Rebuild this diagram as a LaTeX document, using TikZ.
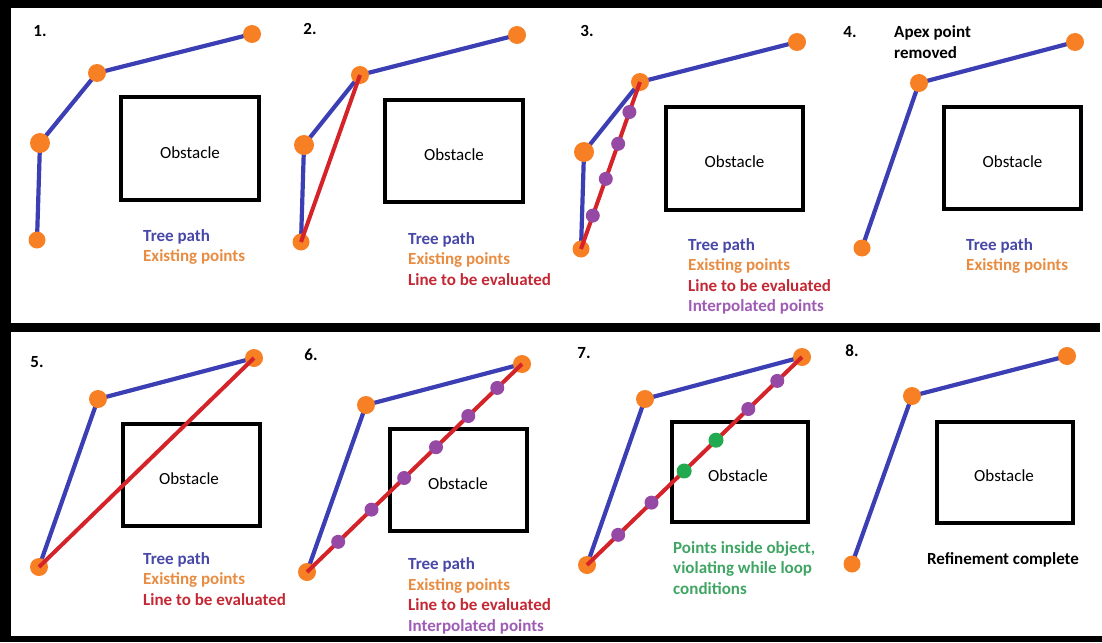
\documentclass[tikz,border=0pt]{standalone}
\usepackage{fontspec}
\setmainfont{Carlito}
\usetikzlibrary{calc}
\definecolor{treeblue}{RGB}{60,62,180}
\definecolor{ptorange}{RGB}{247,128,37}
\definecolor{evalred}{RGB}{212,36,42}
\definecolor{interp}{RGB}{150,72,165}
\definecolor{ptgreen}{RGB}{34,170,80}
\definecolor{lblblue}{RGB}{72,72,168}
\definecolor{lblorange}{RGB}{232,140,66}
\definecolor{lblred}{RGB}{196,40,52}
\definecolor{lblpurple}{RGB}{158,92,180}
\definecolor{lblgreen}{RGB}{64,165,100}
\tikzset{
  op/.style={circle,fill=ptorange,inner sep=0pt,minimum size=18pt},
  opbig/.style={op,minimum size=20pt},
  pp/.style={circle,fill=interp,inner sep=0pt,minimum size=14pt},
  gp/.style={circle,fill=ptgreen,inner sep=0pt,minimum size=15pt},
  tree/.style={draw=treeblue,line width=4.2pt},
  evalline/.style={draw=evalred,line width=4pt},
  obst/.style={draw=black,line width=4.5pt,inner sep=0pt},
  obtxt/.style={font=\fontsize{17}{20}\selectfont,inner sep=0pt},
  num/.style={font=\fontsize{17}{20}\selectfont\bfseries,inner sep=0pt},
  lbl/.style={font=\fontsize{17}{20.5}\selectfont\bfseries,anchor=west,align=left,inner sep=0pt},
  bar/.style={fill=black}
}
\newcommand{\lTree}{\textcolor{lblblue}{Tree path}}
\newcommand{\lExist}{\textcolor{lblorange}{Existing points}}
\newcommand{\lEval}{\textcolor{lblred}{Line to be evaluated}}
\newcommand{\lInterp}{\textcolor{lblpurple}{Interpolated points}}
\begin{document}
\begin{tikzpicture}[x=1pt,y=-1pt]
\useasboundingbox (0,0) rectangle (1102,642);
% frame
\fill[bar] (0,0) rectangle (1102,8);
\fill[bar] (0,0) rectangle (11,642);
\fill[bar] (0,323) rectangle (1100,332);
\fill[bar] (0,636) rectangle (1102,642);

% ---------- Panel 1 ----------
\node[num] (n1) at (40,31) {1.};
\node[obst,minimum width=138pt,minimum height=103pt] (o1) at (190,148.5) {};
\node[obtxt] (t1) at (190,153) {Obstacle};
\coordinate (a1) at (252,34);
\coordinate (b1) at (97,73);
\coordinate (c1) at (40,143);
\coordinate (d1) at (37,240);
\draw[tree] (a1) -- (b1) -- (c1) -- (d1);
\node[op] (pa1) at (a1) {};
\node[op] (pb1) at (b1) {};
\node[opbig] (pc1) at (c1) {};
\node[op,minimum size=17pt] (pd1) at (d1) {};
\node[lbl] (l1) at (143,247) {\lTree\\\lExist};

% ---------- Panel 2 ----------
\node[num] (n2) at (310,29) {2.};
\node[obst,minimum width=138pt,minimum height=102pt] (o2) at (454,151) {};
\node[obtxt] (t2) at (454,155) {Obstacle};
\coordinate (a2) at (517,35);
\coordinate (b2) at (360,75);
\coordinate (c2) at (304,145);
\coordinate (d2) at (301,242);
\draw[tree] (a2) -- (b2) -- (c2) -- (d2);
\node[op] (pa2) at (a2) {};
\node[op] (pb2) at (b2) {};
\node[opbig] (pc2) at (c2) {};
\node[op,minimum size=17pt] (pd2) at (d2) {};
\draw[evalline] (pd2.center) -- (pb2.center);
\node[lbl] (l2) at (408,259) {\lTree\\\lExist\\\lEval};

% ---------- Panel 3 ----------
\node[num] (n3) at (587,31) {3.};
\node[obst,minimum width=137pt,minimum height=103pt] (o3) at (734.5,158.5) {};
\node[obtxt] (t3) at (734.5,162) {Obstacle};
\coordinate (a3) at (797,42);
\coordinate (b3) at (640,82);
\coordinate (c3) at (584,152);
\coordinate (d3) at (581,249);
\draw[tree] (a3) -- (b3) -- (c3) -- (d3);
\node[op] (pa3) at (a3) {};
\node[op] (pb3) at (b3) {};
\node[opbig] (pc3) at (c3) {};
\node[op,minimum size=17pt] (pd3) at (d3) {};
\draw[evalline] (pd3.center) -- (pb3.center);
\node[pp] (i31) at ($(pd3.center)!0.20!(pb3.center)$) {};
\node[pp] (i32) at ($(pd3.center)!0.42!(pb3.center)$) {};
\node[pp] (i33) at ($(pd3.center)!0.63!(pb3.center)$) {};
\node[pp] (i34) at ($(pd3.center)!0.82!(pb3.center)$) {};
\node[lbl] (l3) at (688,276.5) {\lTree\\\lExist\\\lEval\\\lInterp};

% ---------- Panel 4 ----------
\node[num] (n4) at (850,32) {4.};
\node[lbl] (h4) at (894,42) {Apex point\\removed};
\node[obst,minimum width=137pt,minimum height=102pt] (o4) at (1012.5,158) {};
\node[obtxt] (t4) at (1012.5,162) {Obstacle};
\coordinate (a4) at (1075,42);
\coordinate (b4) at (919,83);
\coordinate (d4) at (862,248);
\draw[tree] (a4) -- (b4) -- (d4);
\node[op] (pa4) at (a4) {};
\node[op] (pb4) at (b4) {};
\node[op,minimum size=17pt] (pd4) at (d4) {};
\node[lbl] (l4) at (966,256) {\lTree\\\lExist};

% ---------- Panel 5 ----------
\node[num] (n5) at (37,362) {5.};
\node[obst,minimum width=137pt,minimum height=102pt] (o5) at (191.5,475) {};
\node[obtxt] (t5) at (189,479) {Obstacle};
\coordinate (a5) at (254,358);
\coordinate (b5) at (98,399);
\coordinate (d5) at (39,567);
\draw[tree] (a5) -- (b5) -- (d5);
\node[op] (pa5) at (a5) {};
\node[op] (pb5) at (b5) {};
\node[op] (pd5) at (d5) {};
\draw[evalline] (pd5.center) -- (pa5.center);
\node[lbl] (l5) at (143,579) {\lTree\\\lExist\\\lEval};

% ---------- Panel 6 ----------
\node[num] (n6) at (311,355) {6.};
\node[obst,minimum width=137pt,minimum height=102pt] (o6) at (458.5,480) {};
\node[obtxt] (t6) at (458,484) {Obstacle};
\coordinate (a6) at (522,364);
\coordinate (b6) at (366,405);
\coordinate (d6) at (307,572);
\draw[tree] (a6) -- (b6) -- (d6);
\node[op] (pa6) at (a6) {};
\node[op] (pb6) at (b6) {};
\node[op] (pd6) at (d6) {};
\draw[evalline] (pd6.center) -- (pa6.center);
\node[pp] (i61) at ($(pd6.center)!0.145!(pa6.center)$) {};
\node[pp] (i62) at ($(pd6.center)!0.30!(pa6.center)$) {};
\node[pp] (i63) at ($(pd6.center)!0.452!(pa6.center)$) {};
\node[pp] (i64) at ($(pd6.center)!0.60!(pa6.center)$) {};
\node[pp] (i65) at ($(pd6.center)!0.75!(pa6.center)$) {};
\node[pp] (i66) at ($(pd6.center)!0.885!(pa6.center)$) {};
\node[lbl] (l6) at (408,596) {\lTree\\\lExist\\\lEval\\\lInterp};

% ---------- Panel 7 ----------
\node[num] (n7) at (584,353) {7.};
\node[obst,minimum width=136pt,minimum height=100pt] (o7) at (740,472) {};
\node[obtxt] (t7) at (738,476) {Obstacle};
\coordinate (a7) at (802,357);
\coordinate (b7) at (645,399);
\coordinate (d7) at (587,565);
\draw[tree] (a7) -- (b7) -- (d7);
\node[op] (pa7) at (a7) {};
\node[op] (pb7) at (b7) {};
\node[op] (pd7) at (d7) {};
\draw[evalline] (pd7.center) -- (pa7.center);
\node[pp] (i71) at ($(pd7.center)!0.145!(pa7.center)$) {};
\node[pp] (i72) at ($(pd7.center)!0.30!(pa7.center)$) {};
\node[gp] (i73) at ($(pd7.center)!0.452!(pa7.center)$) {};
\node[gp] (i74) at ($(pd7.center)!0.60!(pa7.center)$) {};
\node[pp] (i75) at ($(pd7.center)!0.75!(pa7.center)$) {};
\node[pp] (i76) at ($(pd7.center)!0.885!(pa7.center)$) {};
\node[lbl,text=lblgreen] (l7) at (673,568) {Points inside object,\\violating while loop\\conditions};

% ---------- Panel 8 ----------
\node[num] (n8) at (852,351) {8.};
\node[obst,minimum width=136pt,minimum height=101pt] (o8) at (1005,472.5) {};
\node[obtxt] (t8) at (1004,476) {Obstacle};
\coordinate (a8) at (1067,356);
\coordinate (b8) at (912,396);
\coordinate (d8) at (852,564);
\draw[tree] (a8) -- (b8) -- (d8);
\node[op] (pa8) at (a8) {};
\node[op] (pb8) at (b8) {};
\node[op,minimum size=17pt] (pd8) at (d8) {};
\node[font=\fontsize{17}{20}\selectfont\bfseries,inner sep=0pt] (l8) at (1003,560) {Refinement complete};
\end{tikzpicture}
\end{document}
